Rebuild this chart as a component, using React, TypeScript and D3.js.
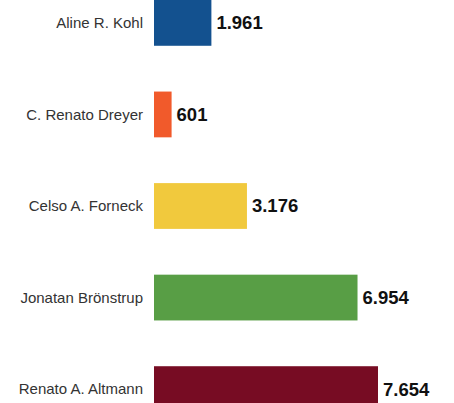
import React, { useEffect, useRef } from 'react';
import * as d3 from 'd3';

const names = ['Aline R. Kohl', 'C. Renato Dreyer', 'Celso A. Forneck', 'Jonatan Brönstrup', 'Renato A. Altmann'];
const votes = [1961, 601, 3176, 6954, 7654];
const labels = ['1.961', '601', '3.176', '6.954', '7.654'];
const colors = ['#13518f', '#f15a2b', '#f1c93d', '#589e45', '#770c23'];

const width = 454;
const height = 403;

export default function App() {
  const svgRef = useRef<SVGSVGElement>(null);

  useEffect(() => {
    if (!svgRef.current) return;
    const svg = d3.select(svgRef.current);
    svg.selectAll('*').remove();

    const x = d3.scaleLinear().domain([0, d3.max(votes) as number]).range([154, 378]);
    const y = d3.scaleBand<string>().domain(names).range([0, 412]).paddingInner(0.5).paddingOuter(0);

    svg.append('rect').attr('width', width).attr('height', height).attr('fill', '#fff');

    const rows = svg.selectAll('g.row')
      .data(names)
      .enter()
      .append('g')
      .attr('class', 'row');

    // Bars
    rows.append('rect')
      .attr('x', x(0))
      .attr('y', d => y(d) as number)
      .attr('width', (_, i) => x(votes[i]) - x(0))
      .attr('height', y.bandwidth())
      .attr('fill', (_, i) => colors[i]);

    // Names
    rows.append('text')
      .attr('x', x(0) - 11)
      .attr('y', d => (y(d) as number) + y.bandwidth() / 2)
      .attr('dy', '0.35em')
      .attr('text-anchor', 'end')
      .attr('font-family', '"Liberation Sans", Arial, sans-serif')
      .attr('font-size', 15)
      .attr('fill', '#333')
      .text(d => d);

    // Values
    rows.append('text')
      .attr('x', (_, i) => x(votes[i]) + 5)
      .attr('y', d => (y(d) as number) + y.bandwidth() / 2)
      .attr('dy', '0.35em')
      .attr('font-family', '"Liberation Sans", Arial, sans-serif')
      .attr('font-size', 18.5)
      .attr('font-weight', 'bold')
      .attr('fill', '#111')
      .text((_, i) => labels[i]);
  }, []);

  return (
    <svg
      ref={svgRef}
      width={width}
      height={height}
      style={{ position: 'absolute', left: 0, top: 0 }}
    />
  );
}
